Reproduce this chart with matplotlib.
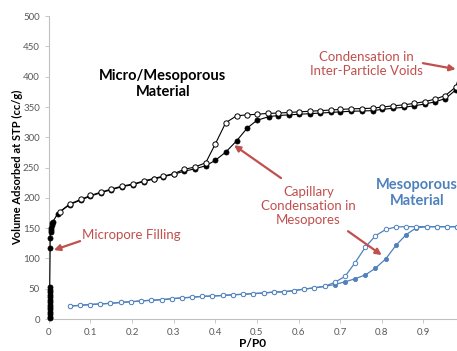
# Nitrogen isotherms: micro/mesoporous vs mesoporous material

import matplotlib.pyplot as plt

# black material, adsorption branch (filled markers)
micro_ads_x = [0.002, 0.002, 0.002, 0.002, 0.002, 0.002, 0.002, 0.002, 0.002, 0.002,
               0.002, 0.002, 0.002, 0.002,
               0.003, 0.003, 0.004, 0.005, 0.006, 0.007, 0.008, 0.010, 0.021,
               0.05, 0.077, 0.1, 0.125, 0.15, 0.176, 0.203, 0.228, 0.252, 0.275, 0.30,
               0.325, 0.351, 0.377, 0.40, 0.425, 0.451, 0.477, 0.50, 0.528, 0.551,
               0.577, 0.60, 0.627, 0.651, 0.677, 0.70, 0.727, 0.753, 0.778, 0.80,
               0.828, 0.853, 0.878, 0.904, 0.928, 0.953, 0.978, 0.995]
micro_ads_y = [1, 4, 8, 12, 16, 20, 24, 28, 32, 36, 40, 44, 48, 53,
               118, 134, 143, 147, 151, 155, 158, 161, 174,
               189, 196.5, 203, 208.5, 213.5, 218.5, 222, 227, 231, 235, 239,
               244, 248, 253, 262, 275.5, 294, 315.5, 328, 334, 336,
               337, 338, 339, 340, 341, 342, 343, 343.5, 344, 346,
               348, 349.5, 352, 355, 358.5, 364, 378, 410]

# black material, desorption branch (open markers)
micro_des_x = [0.026, 0.05, 0.077, 0.1, 0.125, 0.15, 0.176, 0.203, 0.228, 0.252,
               0.275, 0.30, 0.325, 0.351, 0.377, 0.40, 0.425, 0.451, 0.475, 0.50,
               0.526, 0.551, 0.577, 0.60, 0.627, 0.651, 0.677, 0.70, 0.727, 0.753,
               0.778, 0.80, 0.828, 0.853, 0.878, 0.904, 0.928, 0.953, 0.978, 0.995]
micro_des_y = [177, 190, 197.5, 204, 209.5, 214.5, 219.5, 223, 228, 232,
               236, 240, 247, 251, 258, 289, 324, 335.5, 337, 338,
               339.5, 340, 341, 342, 343, 344, 345, 346, 347, 347.5,
               348, 350, 352, 353.6, 356, 359, 363, 369, 383, 420]

# blue material (mesoporous)
meso_x = [0.05, 0.075, 0.099, 0.124, 0.148, 0.173, 0.197, 0.222, 0.246, 0.271,
          0.295, 0.32, 0.344, 0.369, 0.393, 0.418, 0.442, 0.467, 0.491, 0.516,
          0.54, 0.565, 0.589, 0.614, 0.638, 0.663, 0.687, 0.712, 0.736, 0.761,
          0.785, 0.81, 0.834, 0.859, 0.883, 0.908, 0.932, 0.957, 0.981]
meso_ads_y = [21.5, 22.6, 24, 25, 26, 27.5, 28.5, 30, 31, 32,
              33.5, 35, 36, 37.5, 38, 39, 40, 41, 42, 43,
              44.5, 45, 47, 49.5, 51.5, 54, 57, 61.5, 66.5, 73,
              84, 99.5, 121.5, 139.5, 150.5, 152.5, 152.5, 152.5, 152.5]
meso_des_y = [21.5, 22.6, 24, 25, 26, 27.5, 28.5, 30, 31, 32,
              33.5, 35, 36, 37.5, 38, 39, 40, 41, 42, 43,
              44.5, 45, 47, 49.5, 51.5, 54, 60.5, 70.5, 93, 119,
              137.5, 148, 152, 152.5, 152.5, 152.5, 152.5, 152.5, 152.5]

x_ticks = [0, 0.1, 0.2, 0.3, 0.4, 0.5, 0.6, 0.7, 0.8, 0.9]
x_tick_labels = ['0', '0.1', '0.2', '0.3', '0.4', '0.5', '0.6', '0.7', '0.8', '0.9']
y_ticks = [0, 50, 100, 150, 200, 250, 300, 350, 400, 450, 500]

RED = '#c0504d'
BLUE = '#4f81bd'

plt.rcParams['font.family'] = ['Lato', 'DejaVu Sans']

fig = plt.figure(figsize=(4.57, 3.51), dpi=100)
ax = fig.add_axes([0.107, 0.091, 0.893, 0.863])

ax.plot(micro_ads_x, micro_ads_y, color='black', lw=0.8, marker='o', ms=3.6,
        mfc='black', mec='black', mew=0.6, clip_on=False, zorder=3)
ax.plot(micro_des_x, micro_des_y, color='black', lw=0.8, marker='o', ms=3.8,
        mfc='white', mec='black', mew=0.7, zorder=3)
ax.plot(meso_x, meso_ads_y, color=BLUE, lw=0.9, marker='o', ms=3.0,
        mfc=BLUE, mec=BLUE, mew=0.6)
ax.plot(meso_x, meso_des_y, color=BLUE, lw=0.9, marker='o', ms=3.2,
        mfc='white', mec=BLUE, mew=0.7)

ax.set_xlim(0, 0.981)
ax.set_ylim(0, 500)
ax.set_xticks(x_ticks)
ax.set_xticklabels(x_tick_labels)
ax.set_yticks(y_ticks)
ax.tick_params(labelsize=7, colors='#595959', length=3, width=0.6, color='#bfbfbf')
for side in ['top', 'right']:
    ax.spines[side].set_visible(False)
for side in ['left', 'bottom']:
    ax.spines[side].set_color('#bfbfbf')
    ax.spines[side].set_linewidth(0.8)

ax.set_xlabel('P/P0', fontsize=8.5, fontweight='bold', labelpad=1)
ax.set_ylabel('Volume Adsorbed at STP (cc/g)', fontsize=8, fontweight='bold')
ax.yaxis.set_label_coords(-0.064, 0.5)

# labels and arrows
ax.text(0.274, 388, 'Micro/Mesoporous\nMaterial', fontsize=10.5, fontweight='bold',
        ha='center', va='center', linespacing=1.15)
ax.text(0.885, 208, 'Mesoporous\nMaterial', fontsize=10.5, fontweight='bold',
        color=BLUE, ha='center', va='center', linespacing=1.15, clip_on=False)
ax.text(0.764, 421.5, 'Condensation in\nInter-Particle Voids', fontsize=9.5,
        color=RED, ha='center', va='center', linespacing=1.2)
ax.text(0.079, 138.6, 'Micropore Filling', fontsize=9.5, color=RED,
        ha='left', va='center')
ax.text(0.624, 186.5, 'Capillary\nCondensation in\nMesopores', fontsize=9.5,
        color=RED, ha='center', va='center', linespacing=1.2)

arrow = dict(arrowstyle='-|>', color=RED, lw=1.6, mutation_scale=9, shrinkA=0, shrinkB=0)
ax.annotate('', xy=(0.978, 412.5), xytext=(0.899, 422.4), arrowprops=arrow,
            annotation_clip=False)
ax.annotate('', xy=(0.012, 113.9), xytext=(0.075, 128.7), arrowprops=arrow)
ax.annotate('', xy=(0.445, 287), xytext=(0.558, 232.7), arrowprops=arrow)
ax.annotate('', xy=(0.80, 105.6), xytext=(0.719, 145), arrowprops=arrow)

fig.savefig('out.png', dpi=100)
